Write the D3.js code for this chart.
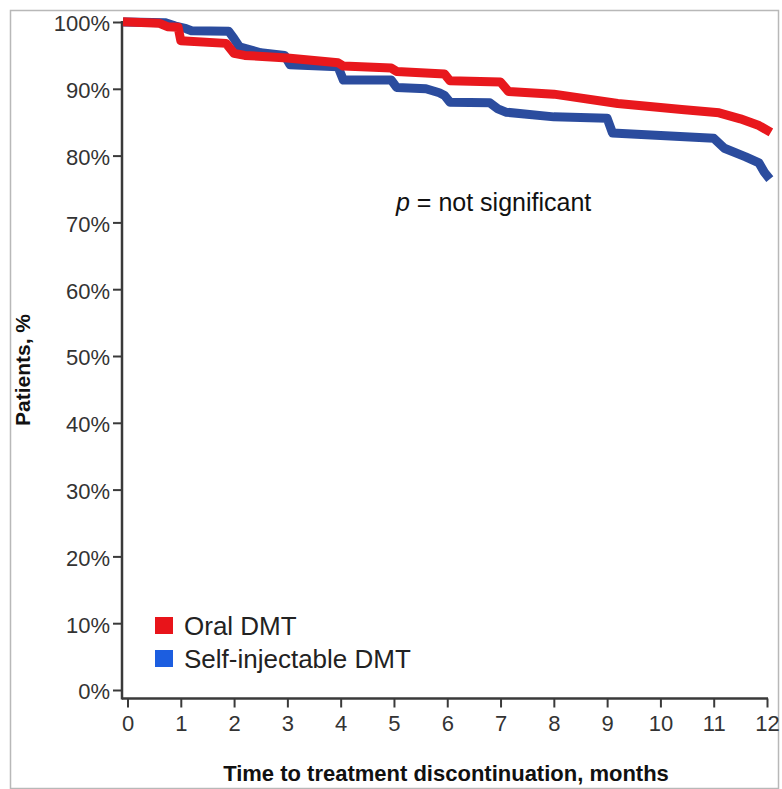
<!DOCTYPE html>
<html><head><meta charset="utf-8">
<script src="https://cdn.jsdelivr.net/npm/d3@7/dist/d3.min.js"></script>
<style>body{margin:0;background:#fff}svg{display:block}</style>
</head><body>
<script>
// Data (months, % remaining on treatment)
const oralTimes  = [0, 0.6, 0.75, 0.95, 1.0, 1.85, 2.0, 2.2, 3.0, 3.95, 4.05, 4.95, 5.05, 5.95, 6.05, 7.0, 7.15, 8.0, 9.2, 10.4, 11.1, 11.5, 11.85, 12];
const oralValues = [100, 99.8, 99.3, 99.2, 97.2, 96.8, 95.3, 95.0, 94.6, 93.9, 93.4, 93.1, 92.6, 92.2, 91.2, 91.0, 89.6, 89.2, 87.8, 86.9, 86.4, 85.5, 84.5, 83.8];
const injTimes  = [0, 0.7, 0.9, 1.1, 1.2, 1.9, 2.0, 2.1, 2.5, 2.95, 3.05, 3.95, 4.05, 4.95, 5.05, 5.6, 5.85, 5.95, 6.05, 6.8, 6.95, 7.1, 8.0, 9.0, 9.1, 11.0, 11.2, 11.6, 11.85, 11.95, 12];
const injValues = [100, 99.9, 99.4, 99.0, 98.7, 98.6, 97.5, 96.3, 95.4, 95.0, 93.6, 93.3, 91.3, 91.3, 90.2, 90.0, 89.4, 89.0, 88.0, 87.9, 87.0, 86.5, 85.8, 85.6, 83.4, 82.6, 81.1, 79.8, 78.9, 77.5, 77.0];
const seriesNames = ["Oral DMT", "Self-injectable DMT"];
const xTicks = [0,1,2,3,4,5,6,7,8,9,10,11,12];
const yTicks = [0,10,20,30,40,50,60,70,80,90,100];

const W = 782, H = 789;
const font = "'Liberation Sans', Arial, Helvetica, sans-serif";
const svg = d3.select("body").append("svg").attr("width", W).attr("height", H);

svg.append("rect").attr("x", 10.5).attr("y", 10.5).attr("width", 768).attr("height", 778)
  .attr("fill", "none").attr("stroke", "#b8b8b8").attr("stroke-width", 1.5);

const x = d3.scaleLinear().domain([0, 12]).range([127.5, 767]);
const y = d3.scaleLinear().domain([0, 100]).range([690, 22]);
const yAxisX = 122, xAxisY = 698.5;
const axisColor = "#3a3a3a", textColor = "#333";

// Y axis
const yAxis = d3.axisLeft(y).tickValues(yTicks).tickFormat(d => d + "%").tickSize(9).tickPadding(3);
const gy = svg.append("g").attr("transform", `translate(${yAxisX},0)`).call(yAxis);
gy.select(".domain").remove();
gy.append("line").attr("x1", 0).attr("x2", 0).attr("y1", 21).attr("y2", xAxisY + 1)
  .attr("stroke", axisColor).attr("stroke-width", 2.5);
gy.selectAll(".tick line").attr("stroke", axisColor).attr("stroke-width", 2);
gy.selectAll(".tick text").attr("font-family", font).attr("font-size", 22).attr("fill", textColor)
  .attr("dy", "0.4em").attr("textLength", null);

// X axis
const xAxis = d3.axisBottom(x).tickValues(xTicks).tickSize(9).tickPadding(8);
const gx = svg.append("g").attr("transform", `translate(0,${xAxisY})`).call(xAxis);
gx.select(".domain").remove();
gx.append("line").attr("x1", yAxisX).attr("x2", x(12) + 1).attr("y1", 0).attr("y2", 0)
  .attr("stroke", axisColor).attr("stroke-width", 2.5);
gx.selectAll(".tick line").attr("stroke", axisColor).attr("stroke-width", 2);
gx.selectAll(".tick text").attr("font-family", font).attr("font-size", 22).attr("fill", textColor);

// Curves
const line = d3.line().x(d => x(d[0])).y(d => y(d[1])).curve(d3.curveLinear);
const oral = oralTimes.map((t, i) => [t, oralValues[i]]);
const inj = injTimes.map((t, i) => [t, injValues[i]]);
const lineColors = ["#e8181d", "#2b4c9e"];
const legendColors = ["#e8141a", "#1c5ee0"];
[[inj, lineColors[1]], [oral, lineColors[0]]].forEach(([data, col]) => {
  svg.append("path").datum(data).attr("d", line).attr("fill", "none")
    .attr("stroke", col)
    .attr("stroke-width", 9).attr("stroke-linejoin", "round").attr("stroke-linecap", "square");
});

// Annotation
const ann = svg.append("text").attr("x", 396).attr("y", 211).attr("font-family", font)
  .attr("font-size", 25).attr("fill", "#111");
ann.append("tspan").attr("font-style", "italic").text("p");
ann.append("tspan").text(" = not significant");

// Legend
seriesNames.forEach((name, i) => {
  const ly = 617 + i * 33;
  svg.append("rect").attr("x", 155).attr("y", ly).attr("width", 18).attr("height", 17).attr("fill", legendColors[i]);
  svg.append("text").attr("x", 184).attr("y", ly + 18).attr("font-family", font)
    .attr("font-size", 26).attr("fill", "#222").text(name);
});

// Axis titles
svg.append("text").attr("x", 446).attr("y", 781).attr("text-anchor", "middle")
  .attr("font-family", font).attr("font-size", 22).attr("font-weight", "bold").attr("fill", "#111")
  .text("Time to treatment discontinuation, months");
svg.append("text").attr("transform", "translate(30,370) rotate(-90)").attr("text-anchor", "middle")
  .attr("font-family", font).attr("font-size", 21).attr("font-weight", "bold").attr("fill", "#111")
  .text("Patients, %");
</script>
</body></html>
